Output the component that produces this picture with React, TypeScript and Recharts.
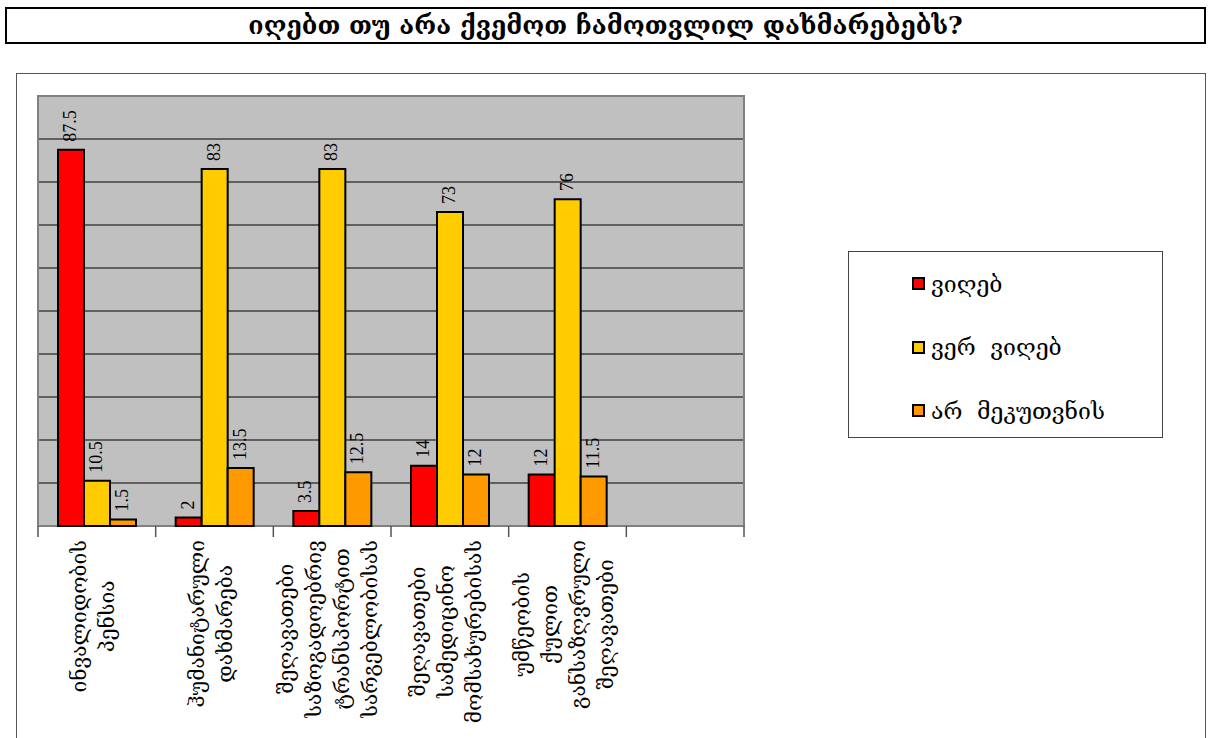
import React from 'react';
import {
  BarChart,
  Bar,
  XAxis,
  YAxis,
  CartesianGrid,
  LabelList,
  Legend,
  ReferenceArea,
} from 'recharts';

// Survey question: do you receive the benefits listed below?
const TITLE = 'იღებთ თუ არა ქვემოთ ჩამოთვლილ დახმარებებს?';

// Category labels (line breaks mark wrapped lines); the last slot is left empty.
const categories = [
  'ინვალიდობის\nპენსია',
  'ჰუმანიტარული\nდახმარება',
  'შეღავათები\nსაზოგადოებრივ\nტრანსპორტით\nსარგებლობისას',
  'შეღავათები\nსამედიცინო\nმომსახურებისას',
  'უმწეობის\nქულით\nგანსაზღვრული\nშეღავათები',
  '',
];

// Series names and values (percent)
const seriesNames = ['ვიღებ', 'ვერ ვიღებ', 'არ მეკუთვნის'];
const receive = [87.5, 2, 3.5, 14, 12, null];
const cannotReceive = [10.5, 83, 83, 73, 76, null];
const notEntitled = [1.5, 13.5, 12.5, 12, 11.5, null];

const seriesColors = ['#FF0000', '#FFCC00', '#FF9900'];
const yTicks = [10, 20, 30, 40, 50, 60, 70, 80, 90];

const data = categories.map((name, i) => ({
  name,
  receive: receive[i],
  cannotReceive: cannotReceive[i],
  notEntitled: notEntitled[i],
}));

const GEO_FONT = '"DejaVu Serif", "DejaVu Sans", serif';
const NUM_FONT = '"Liberation Serif", "Times New Roman", serif';
const LABEL_SIZE = 21;

let measureCtx: CanvasRenderingContext2D | null = null;
function textWidth(s: string, font: string): number {
  if (!measureCtx) {
    const c = document.createElement('canvas');
    measureCtx = c.getContext('2d');
  }
  if (!measureCtx) return s.length * 14;
  measureCtx.font = font;
  return measureCtx.measureText(s).width;
}

// Rotated value printed just above each bar
const ValueLabel = (props: any) => {
  const { x, y, width, value } = props;
  if (value === null || value === undefined) return null;
  const cx = Number(x) + Number(width) / 2;
  return (
    <text
      transform={`translate(${cx + 5},${Number(y) - 8}) rotate(-90)`}
      fontFamily={NUM_FONT}
      fontSize={18}
      fill="#000"
      textAnchor="start"
    >
      {value}
    </text>
  );
};

// Category tick: marks at band boundaries and a vertical multi-line label
const CategoryTick = (props: any) => {
  const { x, y, payload, index } = props;
  const half = payload && typeof payload.offset === 'number' ? payload.offset : 0;
  const label: string = payload ? String(payload.value) : '';
  const lines = label ? label.split('\n') : [];
  const font = `${LABEL_SIZE}px ${GEO_FONT}`;
  const maxW = lines.reduce((m, l) => Math.max(m, textWidth(l, font)), 0);
  const lh = 28;
  const top = y + 14;
  const isLast = index === categories.length - 1;
  return (
    <g>
      <line x1={x - half} x2={x - half} y1={y} y2={y + 11} stroke="#555" strokeWidth={1.5} />
      {isLast && (
        <line x1={x + half} x2={x + half} y1={y} y2={y + 11} stroke="#555" strokeWidth={1.5} />
      )}
      {lines.length > 0 && (
        <text
          transform={`translate(${x - 4},${top}) rotate(-90)`}
          fontFamily={GEO_FONT}
          fontSize={LABEL_SIZE}
          fill="#000"
          textAnchor="middle"
        >
          {lines.map((l, i) => (
            <tspan
              key={i}
              x={-maxW / 2}
              y={(i - (lines.length - 1) / 2) * lh}
              dominantBaseline="central"
            >
              {l}
            </tspan>
          ))}
        </text>
      )}
    </g>
  );
};

const LegendBox = (props: any) => {
  const items = [...(props.payload || [])].sort(
    (a: any, b: any) => seriesNames.indexOf(a.value) - seriesNames.indexOf(b.value)
  );
  return (
    <div
      style={{
        width: 315,
        height: 187,
        boxSizing: 'border-box',
        border: '1.5px solid #444',
        background: '#fff',
        paddingTop: 0,
        paddingLeft: 63,
      }}
    >
      {items.map((entry: any, i: number) => (
        <div
          key={i}
          style={{
            display: 'flex',
            alignItems: 'center',
            height: 63.5,
            fontFamily: GEO_FONT,
            fontSize: 23,
            color: '#000',
            whiteSpace: 'pre',
          }}
        >
          <span
            style={{
              display: 'inline-block',
              width: 9,
              height: 9,
              border: '2px solid #000',
              background: entry.color,
              marginRight: 6,
            }}
          />
          <span>{String(entry.value).replace(' ', '  ')}</span>
        </div>
      ))}
    </div>
  );
};

export default function App() {
  return (
    <div
      style={{
        position: 'absolute',
        left: 0,
        top: 0,
        width: 1208,
        height: 738,
        overflow: 'hidden',
        background: '#fff',
      }}
    >
      <div
        style={{
          position: 'absolute',
          left: 5,
          top: 7,
          width: 1201,
          height: 37,
          boxSizing: 'border-box',
          border: '2.5px solid #000',
          display: 'flex',
          alignItems: 'center',
          justifyContent: 'center',
          fontFamily: GEO_FONT,
          fontWeight: 'bold',
          fontSize: 25,
          color: '#000',
        }}
      >
        {TITLE}
      </div>
      <div
        style={{
          position: 'absolute',
          left: 16,
          top: 73,
          width: 1190,
          height: 700,
          boxSizing: 'border-box',
          border: '1.5px solid #555',
        }}
      />
      <div style={{ position: 'absolute', left: 0, top: 0 }}>
        <BarChart
          width={1208}
          height={738}
          data={data}
          margin={{ top: 96, right: 464, bottom: 12, left: 38 }}
          barCategoryGap="17%"
          barGap={0}
        >
          <CartesianGrid
            vertical={false}
            horizontal={true}
            fill="#C0C0C0"
            fillOpacity={1}
            stroke="#000"
            strokeWidth={1.2}
          />
          <YAxis hide domain={[0, 100]} ticks={yTicks} type="number" />
          <XAxis
            dataKey="name"
            type="category"
            axisLine={false}
            tickLine={false}
            tickSize={0}
            tickMargin={0}
            height={200}
            interval={0}
            tick={<CategoryTick />}
          />
          <ReferenceArea
            y1={0}
            y2={100}
            fill="none"
            fillOpacity={0}
            stroke="#808080"
            strokeWidth={2}
          />
          <Legend
            layout="vertical"
            align="center"
            verticalAlign="middle"
            content={<LegendBox />}
            wrapperStyle={{ position: 'absolute', left: 848, top: 251, width: 315, height: 187 }}
          />
          <Bar dataKey="receive" name={seriesNames[0]} fill={seriesColors[0]} stroke="#000" strokeWidth={2} isAnimationActive={false}>
            <LabelList dataKey="receive" content={<ValueLabel />} />
          </Bar>
          <Bar dataKey="cannotReceive" name={seriesNames[1]} fill={seriesColors[1]} stroke="#000" strokeWidth={2} isAnimationActive={false}>
            <LabelList dataKey="cannotReceive" content={<ValueLabel />} />
          </Bar>
          <Bar dataKey="notEntitled" name={seriesNames[2]} fill={seriesColors[2]} stroke="#000" strokeWidth={2} isAnimationActive={false}>
            <LabelList dataKey="notEntitled" content={<ValueLabel />} />
          </Bar>
        </BarChart>
      </div>
    </div>
  );
}
